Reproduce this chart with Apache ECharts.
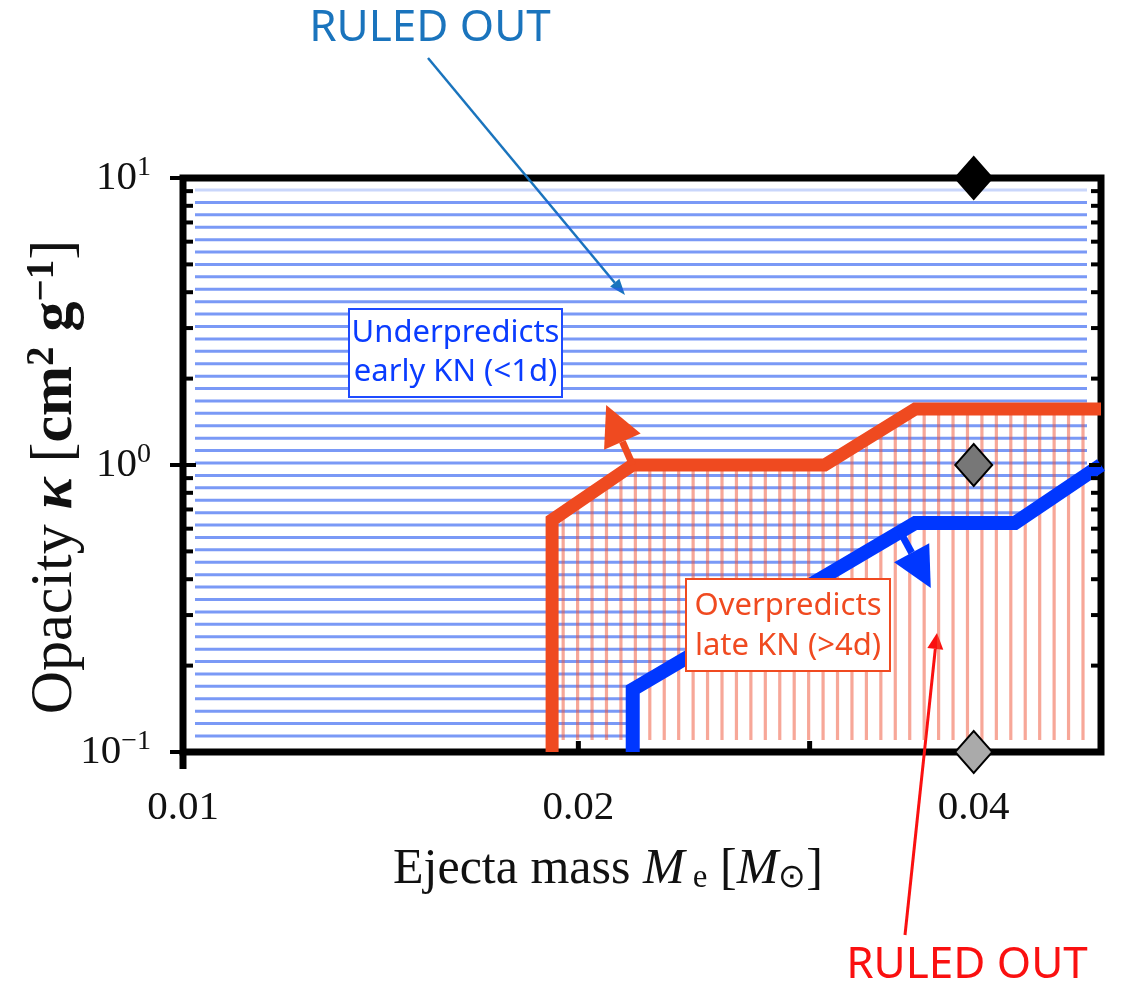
<!DOCTYPE html>
<html><head><meta charset="utf-8">
<script src="https://cdn.jsdelivr.net/npm/echarts@6/dist/echarts.min.js"></script>
<style>html,body{margin:0;padding:0;background:#fff}#c{width:1125px;height:982px}</style>
</head><body><div id="c"></div>
<script>
// ---- data ----
const xRange = [0.01, 0.05];
const yRange = [0.1, 10];
const xTickLabels = [0.01, 0.02, 0.04];
const xMinorTicks = [0.02, 0.03, 0.04];
const yMajorTicks = [0.1, 1, 10];
const yMinorTicks = [0.2, 0.3, 0.4, 0.5, 0.6, 0.7, 0.8, 0.9, 2, 3, 4, 5, 6, 7, 8, 9];
// late-KN boundary (orange): region below/right is ruled out
const orangeX = [0.0191, 0.0191, 0.0220, 0.0308, 0.0361, 0.05];
const orangeY = [0.1, 0.643, 1.0, 1.0, 1.567, 1.567];
// early-KN boundary (blue): region above/left is ruled out
const blueX = [0.0220, 0.0220, 0.0361, 0.0430, 0.05];
const blueY = [0.1, 0.165, 0.628, 0.628, 1.0];
const orangeArrow = [[0.0220, 1.0], [0.0210, 1.618]];
const blueArrow = [[0.0351, 0.594], [0.0371, 0.373]];
const markerX = [0.04, 0.04, 0.04];
const markerY = [10, 1, 0.1];
const markerColors = ['#000000', '#777777', '#aaaaaa'];

// ---- helpers ----
const SERIF = '"Liberation Serif","Times New Roman",serif';
const SANS = '"Noto Sans","Open Sans",sans-serif';
function spans(poly, c, horiz) {
  const xs = [];
  for (let i = 0; i < poly.length; i++) {
    const a = poly[i], b = poly[(i + 1) % poly.length];
    const a1 = horiz ? a[1] : a[0], b1 = horiz ? b[1] : b[0];
    const a0 = horiz ? a[0] : a[1], b0 = horiz ? b[0] : b[1];
    if ((a1 <= c && b1 > c) || (b1 <= c && a1 > c)) xs.push(a0 + (c - a1) / (b1 - a1) * (b0 - a0));
  }
  xs.sort((p, q) => p - q);
  const out = [];
  for (let i = 0; i + 1 < xs.length; i += 2) out.push([xs[i], xs[i + 1]]);
  return out;
}
function headPts(tail, tip, len, half) {
  const dx = tip[0] - tail[0], dy = tip[1] - tail[1];
  const d = Math.hypot(dx, dy), ux = dx / d, uy = dy / d;
  const bx = tip[0] - ux * len, by = tip[1] - uy * len;
  return { base: [bx, by], pts: [tip, [bx - uy * half, by + ux * half], [bx + uy * half, by - ux * half]] };
}
function arrowEls(tail, tip, len, half, color, w) {
  const h = headPts(tail, tip, len, half);
  return [
    { type: 'line', shape: { x1: tail[0], y1: tail[1], x2: h.base[0], y2: h.base[1] }, style: { stroke: color, lineWidth: w } },
    { type: 'polygon', shape: { points: h.pts }, style: { fill: color } }
  ];
}

const chart = echarts.init(document.getElementById('c'), null, { renderer: 'canvas' });

const option = {
  animation: false,
  backgroundColor: '#ffffff',
  grid: { left: 183, right: 24, top: 178, bottom: 230, containLabel: false, outerBoundsMode: 'none',
          show: true, borderColor: '#000', borderWidth: 7, backgroundColor: 'transparent' },
  xAxis: { type: 'log', logBase: 10, min: xRange[0], max: xRange[1],
           axisLine: { show: false }, axisTick: { show: false }, axisLabel: { show: false },
           splitLine: { show: false }, minorTick: { show: false } },
  yAxis: { type: 'log', logBase: 10, min: yRange[0], max: yRange[1],
           axisLine: { show: false }, axisTick: { show: false }, splitLine: { show: false },
           axisLabel: {
             margin: 32, color: '#111', fontFamily: SERIF,
             formatter: v => '{b|10}{s|' + String(Math.round(Math.log10(v))).replace('-', '\u2212') + '}',
             rich: { b: { fontSize: 41, fontFamily: SERIF, color: '#111' },
                     s: { fontSize: 28, fontFamily: SERIF, color: '#111', padding: [0, 0, 20, 0] } }
           } },
  series: [
    { // hatching
      type: 'custom', z: 1, silent: true, data: [[xRange[0], yRange[0]]],
      renderItem: function (params, api) {
        const cs = params.coordSys;
        const L = cs.x, T = cs.y, R = cs.x + cs.width, B = cs.y + cs.height;
        const bluePoly = [api.coord([xRange[0], yRange[1]]), api.coord([xRange[1], yRange[1]])];
        for (let i = blueX.length - 1; i >= 0; i--) bluePoly.push(api.coord([blueX[i], blueY[i]]));
        bluePoly.push(api.coord([xRange[0], yRange[0]]));
        const redPoly = orangeX.map((x, i) => api.coord([x, orangeY[i]]));
        redPoly.push(api.coord([xRange[1], yRange[0]]));
        const kids = [];
        const y0 = T + 12, y1 = B - 16, nH = 44;
        for (let k = 0; k <= nH; k++) {
          const y = y0 + k * (y1 - y0) / nH;
          spans(bluePoly, y, true).forEach(s => {
            const a = Math.max(s[0], L + 12), b = Math.min(s[1], R - 14);
            if (b > a) kids.push({ type: 'line', shape: { x1: a, y1: y, x2: b, y2: y },
              style: { stroke: k === 0 ? 'rgba(40,90,240,0.25)' : 'rgba(40,90,240,0.62)', lineWidth: 3 } });
          });
        }
        const step = 14.44;
        for (let x = R - 18; x > L + 12; x -= step) {
          spans(redPoly, x, false).forEach(s => {
            const a = Math.max(s[0], T + 10), b = Math.min(s[1], B - 12);
            if (b > a) kids.push({ type: 'line', shape: { x1: x, y1: a, x2: x, y2: b },
              style: { stroke: 'rgba(240,80,50,0.5)', lineWidth: 3.2 } });
          });
        }
        return { type: 'group', children: kids };
      }
    },
    { type: 'line', z: 3, clip: false, symbol: 'none', silent: true,
      data: orangeX.map((x, i) => [x, orangeY[i]]),
      lineStyle: { color: '#ef4a20', width: 13, join: 'miter', cap: 'butt' } },
    { type: 'line', z: 3, clip: false, symbol: 'none', silent: true,
      data: blueX.map((x, i) => [x, blueY[i]]),
      lineStyle: { color: '#0037ff', width: 14, join: 'miter', cap: 'butt' } },
    { // direction arrows
      type: 'custom', z: 4, silent: true, data: [[xRange[0], yRange[0]]],
      renderItem: function (params, api) {
        const kids = [].concat(
          arrowEls(api.coord(orangeArrow[0]), api.coord(orangeArrow[1]), 40, 20, '#ef4a20', 7),
          arrowEls(api.coord(blueArrow[0]), api.coord(blueArrow[1]), 40, 20, '#0037ff', 7));
        return { type: 'group', children: kids };
      }
    },
    { // ticks and x tick labels
      type: 'custom', z: 6, silent: true, clip: false, data: [[xRange[0], yRange[0]]],
      renderItem: function (params, api) {
        const cs = params.coordSys;
        const L = cs.x, T = cs.y, R = cs.x + cs.width, B = cs.y + cs.height;
        const kids = [];
        const ln = (x1, y1, x2, y2, w) => kids.push({ type: 'line', shape: { x1, y1, x2, y2 }, style: { stroke: '#000', lineWidth: w } });
        yMajorTicks.forEach(v => { const y = api.coord([xRange[0], v])[1]; ln(L - 13, y, L + 13, y, 4); ln(R - 12, y, R, y, 4); });
        yMinorTicks.forEach(v => { const y = api.coord([xRange[0], v])[1]; ln(L, y, L + 10, y, 4); ln(R - 10, y, R, y, 4); });
        xMinorTicks.forEach(v => { const x = api.coord([v, yRange[0]])[0]; ln(x, B - 11, x, B, 5); });
        const x0 = api.coord([xRange[0], yRange[0]])[0];
        ln(x0, B, x0, B + 17, 7);
        xTickLabels.forEach(v => {
          const x = api.coord([v, yRange[0]])[0];
          kids.push({ type: 'text', x: x, y: B + 56, style: { text: v.toFixed(2), fontSize: 41, fontFamily: SERIF, fill: '#111', align: 'center', verticalAlign: 'middle' } });
        });
        return { type: 'group', children: kids };
      }
    },
    { type: 'scatter', z: 10, clip: false, silent: true, symbol: 'diamond', symbolSize: [37, 42],
      data: markerX.map((x, i) => ({ value: [x, markerY[i]], itemStyle: { color: markerColors[i], opacity: 1, borderColor: '#000', borderWidth: 2 } })) }
  ],
  graphic: [
    { type: 'text', z: 100, x: 430, y: 28, style: { text: 'RULED OUT', fontSize: 44, fontFamily: SANS, fill: '#1a74bd', align: 'center', verticalAlign: 'middle' } },
    { type: 'text', z: 100, x: 967, y: 965, style: { text: 'RULED OUT', fontSize: 44, fontFamily: SANS, fill: '#fa1010', align: 'center', verticalAlign: 'middle' } },
    { type: 'group', z: 100, children: arrowEls([428, 58], [625, 295], 16, 6, '#1a74bd', 2.5) },
    { type: 'group', z: 100, children: arrowEls([905, 935], [937, 633], 16, 8, '#fa1010', 3) },
    { type: 'rect', z: 100, shape: { x: 349, y: 309, width: 213, height: 88 }, style: { fill: '#fff', stroke: '#1f4bff', lineWidth: 2 } },
    { type: 'text', z: 101, x: 455.5, y: 353, style: { text: 'Underpredicts\nearly KN (<1d)', fontSize: 31, lineHeight: 39, fontFamily: SANS, fill: '#0a3cff', align: 'center', verticalAlign: 'middle' } },
    { type: 'rect', z: 100, shape: { x: 686, y: 579, width: 204, height: 92 }, style: { fill: '#fff', stroke: '#f04a20', lineWidth: 2 } },
    { type: 'text', z: 101, x: 788, y: 626, style: { text: 'Overpredicts\nlate KN (>4d)', fontSize: 31, lineHeight: 40, fontFamily: SANS, fill: '#f04a20', align: 'center', verticalAlign: 'middle' } },
    { type: 'text', z: 100, x: 608, y: 870, style: {
        text: '{n|Ejecta mass }{i|M}{sub| e}{n| [}{i|M}{sub|\u2299}{n|]}',
        align: 'center', verticalAlign: 'middle',
        rich: { n: { fontSize: 50, fontFamily: SERIF, fill: '#111' },
                i: { fontSize: 50, fontFamily: SERIF, fontStyle: 'italic', fill: '#111' },
                sub: { fontSize: 33, fontFamily: SERIF, fill: '#111', padding: [17, 0, 0, 0] } } } },
    { type: 'text', z: 100, x: 55, y: 477, rotation: Math.PI / 2, style: {
        text: '{n|Opacity }{k|\u03ba}{n| [}{b|cm}{sup|2}{b| g}{sup|\u22121}{n|]}',
        align: 'center', verticalAlign: 'middle',
        rich: { n: { fontSize: 60, fontFamily: SERIF, fill: '#111' },
                k: { fontSize: 60, fontFamily: SERIF, fontStyle: 'italic', fontWeight: 'bold', fill: '#111' },
                b: { fontSize: 60, fontFamily: SERIF, fontWeight: 'bold', fill: '#111' },
                sup: { fontSize: 39, fontFamily: SERIF, fontWeight: 'bold', fill: '#111', padding: [0, 0, 25, 0] } } } }
  ]
};
chart.setOption(option);
</script>
</body></html>
